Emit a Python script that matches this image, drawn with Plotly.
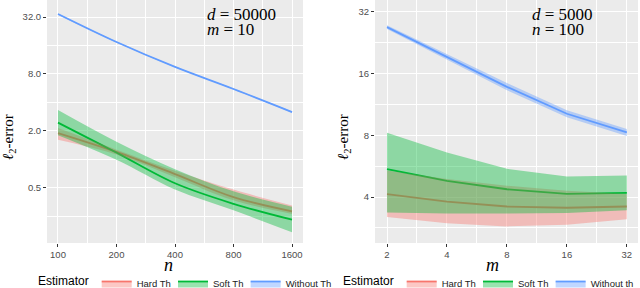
import plotly.graph_objects as go
import math

# ---------------- data: left panel (d = 50000, m = 10) ----------------
n_vals = [100, 200, 400, 800, 1600]
left_hard = [1.9, 1.2, 0.70, 0.40, 0.283]
left_hard_lo = [1.62, 1.13, 0.65, 0.37, 0.266]
left_hard_hi = [2.15, 1.27, 0.76, 0.48, 0.327]
left_soft = [2.45, 1.18, 0.56, 0.34, 0.231]
left_soft_lo = [1.8, 0.99, 0.48, 0.29, 0.17]
left_soft_hi = [3.33, 1.54, 0.79, 0.46, 0.317]
left_without = [34.4, 17.4, 9.5, 5.55, 3.17]
left_without_lo = [33.9, 17.2, 9.4, 5.48, 3.11]
left_without_hi = [34.9, 17.6, 9.6, 5.62, 3.23]
left_xticks = [100, 200, 400, 800, 1600]
left_yticks = [0.5, 2, 8, 32]
left_ytext = ["0.5", "2.0", "8.0", "32.0"]

# ---------------- data: right panel (d = 5000, n = 100) ----------------
m_vals = [2, 4, 8, 16, 32]
right_hard = [4.14, 3.8, 3.6, 3.55, 3.6]
right_hard_lo = [3.2, 2.98, 2.88, 2.93, 3.12]
right_hard_hi = [5.4, 4.9, 4.55, 4.3, 4.14]
right_soft = [5.48, 4.8, 4.37, 4.15, 4.2]
right_soft_lo = [3.37, 3.33, 3.33, 3.35, 3.45]
right_soft_hi = [8.25, 6.6, 5.5, 5.04, 5.1]
right_without = [27.0, 19.3, 13.8, 10.2, 8.27]
right_without_lo = [26.4, 18.8, 13.3, 9.8, 7.95]
right_without_hi = [27.6, 19.9, 14.4, 10.6, 8.6]
right_xticks = [2, 4, 8, 16, 32]
right_yticks = [4, 8, 16, 32]

names_left = ["Hard Th", "Soft Th", "Without Th"]
names_right = ["Hard Th", "Soft Th", "Without th"]

line_colors = ["#F8766D", "#00BA38", "#619CFF"]
fill_colors = ["rgba(248,118,109,0.4)", "rgba(0,186,56,0.4)", "rgba(97,156,255,0.4)"]

W, H = 640, 288
SANS = "Liberation Sans, Arial, sans-serif"
TICK_FONT = dict(family=SANS, size=9.5, color="#4D4D4D")
SERIF = "Liberation Serif, Times New Roman, serif"
LEG_FONT = 9.5

fig = go.Figure()


def mids(vals):
    return [math.sqrt(a * b) for a, b in zip(vals[:-1], vals[1:])]


def text_w(s, size):
    # rough Helvetica advance widths, used only to tighten legend spacing
    widths = {"H": .722, "a": .556, "r": .333, "d": .556, " ": .278, "T": .611, "h": .556,
              "S": .667, "o": .556, "f": .278, "t": .278, "W": .944, "i": .222, "u": .556}
    return sum(widths.get(c, .556) for c in s) * size


def add_panel(xv, centers, los, his, names, xa, ya, legend, shape):
    # lines first (the ribbons are drawn above them)
    for c, col in zip(centers, line_colors):
        fig.add_trace(go.Scatter(x=xv, y=c, mode="lines", line=dict(color=col, width=1.8, shape=shape),
                                 xaxis=xa, yaxis=ya, showlegend=False, hoverinfo="skip"))
    for lo, hi, fc in zip(los, his, fill_colors):
        fig.add_trace(go.Scatter(x=xv, y=lo, mode="lines", line=dict(width=0, shape=shape),
                                 xaxis=xa, yaxis=ya, showlegend=False, hoverinfo="skip"))
        fig.add_trace(go.Scatter(x=xv, y=hi, mode="lines", line=dict(width=0, shape=shape),
                                 fill="tonexty", fillcolor=fc,
                                 xaxis=xa, yaxis=ya, showlegend=False, hoverinfo="skip"))
    # legend keys (last entry keeps its natural width so its text is not clipped)
    for i, (name, col, fc) in enumerate(zip(names, line_colors, fill_colors)):
        extra = {} if i == len(names) - 1 else dict(legendwidth=text_w(name, LEG_FONT) - 3)
        fig.add_trace(go.Scatter(x=[None], y=[None], mode="lines", name=name,
                                 line=dict(color=col, width=1.8), fill="toself", fillcolor=fc,
                                 xaxis=xa, yaxis=ya, legend=legend, **extra))


add_panel(n_vals, [left_hard, left_soft, left_without],
          [left_hard_lo, left_soft_lo, left_without_lo],
          [left_hard_hi, left_soft_hi, left_without_hi],
          names_left, "x", "y", "legend", "spline")
add_panel(m_vals, [right_hard, right_soft, right_without],
          [right_hard_lo, right_soft_lo, right_without_lo],
          [right_hard_hi, right_soft_hi, right_without_hi],
          names_right, "x2", "y2", "legend2", "linear")

ydom = [45 / H, 1.0]
axis_common = dict(type="log", showgrid=True, gridcolor="white", gridwidth=1.1, zeroline=False,
                   showline=False, ticks="outside", ticklen=3, tickwidth=1, tickcolor="#333333",
                   tickfont=TICK_FONT, tickmode="array")
minor_style = dict(showgrid=True, gridcolor="white", gridwidth=0.55, ticks="")

leg_common = dict(orientation="h", xanchor="left", y=-10 / H, yanchor="bottom",
                  title=dict(text="Estimator", side="left", font=dict(family=SANS, size=12, color="black")),
                  font=dict(family=SANS, size=LEG_FONT, color="#222222"),
                  itemwidth=30, bgcolor="rgba(0,0,0,0)", traceorder="normal")

fig.update_layout(
    xaxis=dict(domain=[47 / W, 303 / W], range=[math.log10(87.8), math.log10(1822)],
               tickvals=left_xticks, ticktext=[str(v) for v in left_xticks],
               minor=dict(tickvals=mids(left_xticks), **minor_style), anchor="y", **axis_common),
    yaxis=dict(domain=ydom, range=[math.log10(0.131), math.log10(48.4)],
               tickvals=left_yticks, ticktext=left_ytext,
               minor=dict(tickvals=[0.25, 1, 4, 16], **minor_style), anchor="x", **axis_common),
    xaxis2=dict(domain=[375 / W, 638 / W], range=[math.log10(1.741), math.log10(36.4)],
                tickvals=right_xticks, ticktext=[str(v) for v in right_xticks],
                minor=dict(tickvals=mids(right_xticks), **minor_style), anchor="y2", **axis_common),
    yaxis2=dict(domain=ydom, range=[math.log10(2.39), math.log10(36.6)],
                tickvals=right_yticks, ticktext=[str(v) for v in right_yticks],
                minor=dict(tickvals=[2.83, 5.66, 11.3, 22.6], **minor_style), anchor="x2", **axis_common),
    width=W, height=H, margin=dict(l=0, r=0, t=0, b=0, autoexpand=False),
    paper_bgcolor="white", plot_bgcolor="#EBEBEB",
    legend=dict(x=36 / W, **leg_common),
    legend2=dict(x=341 / W, **leg_common),
)

ann = []


def add_text(px, py, text, size, angle=0, xanchor="center", yanchor="middle"):
    ann.append(dict(x=px / W, y=1 - py / H, xref="paper", yref="paper", text=text, showarrow=False,
                    xanchor=xanchor, yanchor=yanchor, textangle=angle,
                    font=dict(family=SERIF, size=size, color="black")))


add_text(205, 14, "<i>d</i> = 50000", 17, xanchor="left")
add_text(205, 30, "<i>m</i> = 10", 17, xanchor="left")
add_text(530, 14, "<i>d</i> = 5000", 17, xanchor="left")
add_text(530, 30, "<i>n</i> = 100", 17, xanchor="left")
add_text(168, 265, "<i>n</i>", 18)
add_text(492, 265, "<i>m</i>", 18)
add_text(9, 137, "<i>ℓ</i><sub>2</sub>-error", 15, angle=-90)
add_text(344, 137, "<i>ℓ</i><sub>2</sub>-error", 15, angle=-90)
fig.update_layout(annotations=ann)

fig.write_html("out.html", config={"displayModeBar": False},
               post_script="document.body.style.margin='0';document.body.style.overflow='hidden';")
